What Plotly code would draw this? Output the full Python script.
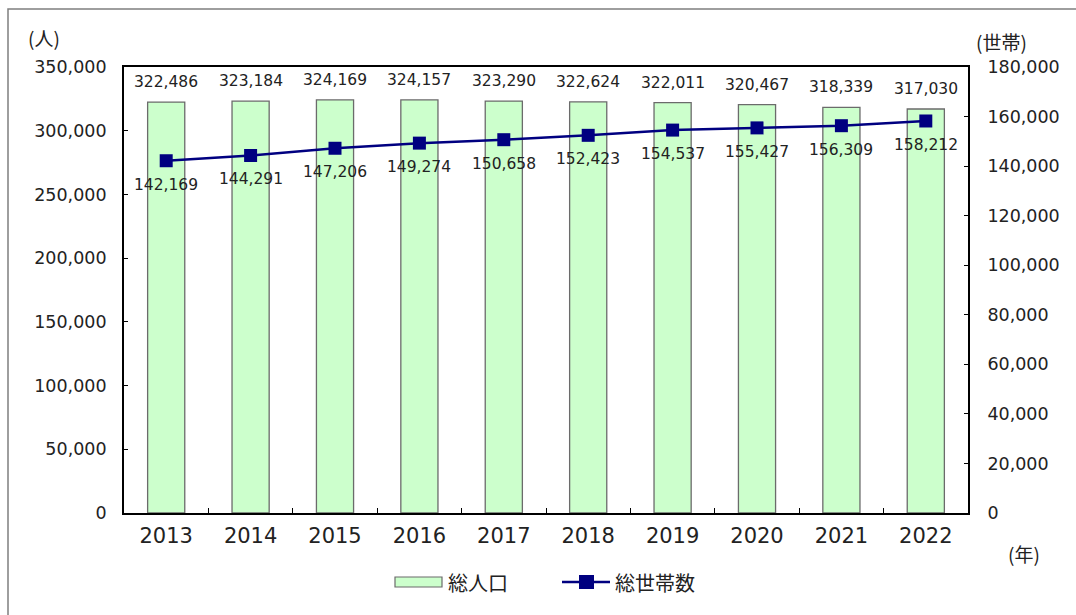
import plotly.graph_objects as go

# Population and household counts by year
years = ["2013", "2014", "2015", "2016", "2017", "2018", "2019", "2020", "2021", "2022"]
population = [322486, 323184, 324169, 324157, 323290, 322624, 322011, 320467, 318339, 317030]
households = [142169, 144291, 147206, 149274, 150658, 152423, 154537, 155427, 156309, 158212]

left_ticks = [0, 50000, 100000, 150000, 200000, 250000, 300000, 350000]
right_ticks = [0, 20000, 40000, 60000, 80000, 100000, 120000, 140000, 160000, 180000]

FONT = "Noto Sans CJK JP"
NUM_FONT = "DejaVu Sans"
TXT = "#222222"
BAR_FILL = "#ccffcc"
BAR_EDGE = "#6b6b6b"
LINE_COL = "#000080"

W, H = 1076, 615
L, R, T, B = 124, 968, 67, 513
pw, ph = R - L, B - T


def px(x):
    return (x - L) / pw


def py(y):
    return (B - y) / ph


def num_font(size):
    return dict(family=NUM_FONT, size=size, color=TXT)


fig = go.Figure()

fig.add_trace(go.Bar(
    x=years, y=population, name="総人口",
    marker=dict(color=BAR_FILL, line=dict(color=BAR_EDGE, width=1.3)),
    width=0.44, yaxis="y", showlegend=False,
))

fig.add_trace(go.Scatter(
    x=years, y=households, name="総世帯数", yaxis="y2",
    mode="lines+markers",
    line=dict(color=LINE_COL, width=2.5),
    marker=dict(symbol="square", size=13, color=LINE_COL),
    showlegend=False,
))

annotations = []
# value labels: x given as category index
for i, v in enumerate(population):
    annotations.append(dict(
        x=i, y=v, xref="x", yref="y", yshift=20,
        text=f"{v:,}", showarrow=False, xanchor="center", yanchor="middle",
        font=num_font(15.5),
    ))
for i, v in enumerate(households):
    annotations.append(dict(
        x=i, y=v, xref="x", yref="y2", yshift=-24,
        text=f"{v:,}", showarrow=False, xanchor="center", yanchor="middle",
        font=num_font(15.5),
    ))


def paper_text(x, y, text, size, xanchor="center"):
    return dict(x=px(x), y=py(y), xref="paper", yref="paper", text=text,
                showarrow=False, xanchor=xanchor, yanchor="middle",
                font=dict(family=FONT, size=size, color=TXT))


# Axis unit captions
annotations += [
    paper_text(44, 37, "(人)", 19),
    paper_text(1001, 42, "(世帯)", 19),
    paper_text(1024, 553, "(年)", 19),
]

# Legend labels
annotations += [
    paper_text(446, 582, "総人口", 20, "left"),
    paper_text(613, 582, "総世帯数", 20, "left"),
]

shapes = [
    # outer frame
    dict(type="rect", xref="paper", yref="paper",
         x0=px(8), x1=px(1090), y0=py(630), y1=py(9),
         line=dict(color="#7f7f7f", width=1.5), fillcolor="rgba(0,0,0,0)", layer="below"),
    # legend swatches
    dict(type="rect", xref="paper", yref="paper",
         x0=px(395), x1=px(442), y0=py(587), y1=py(577),
         line=dict(color=BAR_EDGE, width=1.2), fillcolor=BAR_FILL),
    dict(type="line", xref="paper", yref="paper",
         x0=px(562), x1=px(610), y0=py(582), y1=py(582),
         line=dict(color=LINE_COL, width=2.5)),
    dict(type="rect", xref="paper", yref="paper",
         x0=px(579), x1=px(594), y0=py(589), y1=py(575),
         line=dict(color=LINE_COL, width=0), fillcolor=LINE_COL),
]

fig.update_layout(
    width=W, height=H,
    margin=dict(l=L, r=W - R, t=T, b=H - B, pad=0),
    paper_bgcolor="white", plot_bgcolor="white",
    font=dict(family=FONT, color=TXT),
    xaxis=dict(
        type="category", range=[-0.5, len(years) - 0.5], tickson="boundaries",
        ticks="inside", ticklen=5, tickcolor="#000", tickwidth=1,
        showline=True, linecolor="#000", linewidth=1.8, mirror=True,
        showgrid=False, tickfont=num_font(21),
        tickangle=0, ticklabelstandoff=3,
    ),
    yaxis=dict(
        range=[0, 350000], tickvals=left_ticks,
        ticktext=[f"{v:,}" for v in left_ticks],
        ticks="inside", ticklen=4, tickcolor="#000",
        showline=True, linecolor="#000", linewidth=1.8, mirror=True,
        showgrid=False, zeroline=False,
        tickfont=num_font(17.5),
        ticklabelstandoff=12,
    ),
    yaxis2=dict(
        range=[0, 180000], tickvals=right_ticks,
        ticktext=[f"{v:,}" for v in right_ticks],
        overlaying="y", side="right",
        ticks="inside", ticklen=4, tickcolor="#000",
        showline=True, linecolor="#000", linewidth=1.8,
        showgrid=False, zeroline=False,
        tickfont=num_font(17.5),
        ticklabelstandoff=14,
    ),
    annotations=annotations,
    shapes=shapes,
)

fig.write_html("out.html")
